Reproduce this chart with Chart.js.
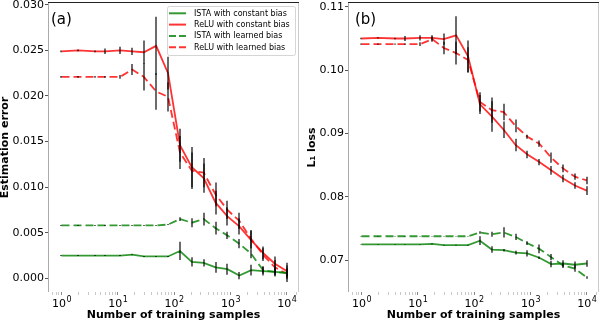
<!DOCTYPE html>
<html>
<head>
<meta charset="utf-8">
<script src="https://cdn.jsdelivr.net/npm/chart.js@4"></script>
<style>
  body { margin: 0; background: #fff; }
  .panel { position: absolute; top: 0; width: 300px; height: 322px; }
</style>
</head>
<body>
<div class="panel" style="left:0"><canvas id="chartA" width="300" height="322"></canvas></div>
<div class="panel" style="left:300px"><canvas id="chartB" width="300" height="322"></canvas></div>
<script>
// number of training samples (x positions shared by every series)
const samples = [1, 2, 4, 6, 11, 18, 29, 48, 78, 127, 206, 335, 545, 885, 1438, 2335, 3792, 6158, 10000];
const seriesLabels = ['ISTA with constant bias', 'ReLU with constant bias', 'ISTA with learned bias', 'ReLU with learned bias'];

// (a) estimation error
const istaConstA = [0.0025, 0.0025, 0.0025, 0.0025, 0.0025, 0.0026, 0.0024, 0.0024, 0.0024, 0.0030, 0.0018, 0.0017, 0.0012, 0.0010, 0.0003, 0.0009, 0.0008, 0.0007, 0.0006];
const reluConstA = [0.0249, 0.0250, 0.0249, 0.0249, 0.0250, 0.0249, 0.0248, 0.0255, 0.0225, 0.0146, 0.0122, 0.0110, 0.0083, 0.0068, 0.0057, 0.0042, 0.0028, 0.0016, 0.0008];
const istaLearnA = [0.0058, 0.0058, 0.0058, 0.0058, 0.0058, 0.0058, 0.0058, 0.0058, 0.0059, 0.0065, 0.0061, 0.0065, 0.0055, 0.0047, 0.0038, 0.0027, 0.0009, 0.0007, 0.0006];
const reluLearnA = [0.0221, 0.0221, 0.0221, 0.0221, 0.0221, 0.0229, 0.0221, 0.0205, 0.0199, 0.0138, 0.0118, 0.0116, 0.0092, 0.0075, 0.0063, 0.0043, 0.0026, 0.0012, 0.0005];
// error bar half-lengths for (a)
const errIstaConstA = [0.00005, 0.00005, 0.00005, 0.00005, 0.00005, 0.00005, 0.00005, 0.00005, 0.00005, 0.0010, 0.0005, 0.0004, 0.0006, 0.0006, 0.0004, 0.0006, 0.0005, 0.0005, 0.0005];
const errReluConstA = [0.0001, 0.0001, 0.0001, 0.0003, 0.0004, 0.0004, 0.0013, 0.0032, 0.0018, 0.0018, 0.0022, 0.0016, 0.0013, 0.0010, 0.0009, 0.0010, 0.0007, 0.0008, 0.0009];
const errIstaLearnA = [0.00005, 0.00005, 0.00005, 0.00005, 0.00005, 0.00005, 0.00005, 0.00005, 0.00005, 0.0002, 0.0005, 0.0007, 0.0007, 0.0004, 0.0005, 0.0005, 0.0004, 0.0004, 0.0004];
const errReluLearnA = [0.0001, 0.0001, 0.0001, 0.0001, 0.0002, 0.0006, 0.0015, 0.0020, 0.0016, 0.0018, 0.0020, 0.0016, 0.0013, 0.0010, 0.0009, 0.0010, 0.0007, 0.0008, 0.0009];

// (b) L1 loss
const istaConstB = [0.0725, 0.0725, 0.0725, 0.0725, 0.0725, 0.0726, 0.0724, 0.0724, 0.0724, 0.0731, 0.0717, 0.0716, 0.0712, 0.0711, 0.0704, 0.0694, 0.0695, 0.0693, 0.0695];
const reluConstB = [0.1050, 0.1051, 0.1050, 0.1050, 0.1051, 0.1051, 0.1049, 0.1055, 0.1022, 0.0946, 0.0927, 0.0906, 0.0882, 0.0867, 0.0855, 0.0842, 0.0829, 0.0818, 0.0810];
const istaLearnB = [0.0738, 0.0738, 0.0738, 0.0738, 0.0738, 0.0738, 0.0738, 0.0738, 0.0738, 0.0744, 0.0741, 0.0744, 0.0737, 0.0727, 0.0718, 0.0705, 0.0692, 0.0687, 0.0673];
const reluLearnB = [0.1041, 0.1041, 0.1041, 0.1041, 0.1041, 0.1049, 0.1035, 0.1027, 0.1016, 0.0950, 0.0937, 0.0934, 0.0912, 0.0895, 0.0884, 0.0862, 0.0845, 0.0832, 0.0826];
const errIstaConstB = [0.00005, 0.00005, 0.00005, 0.00005, 0.00005, 0.00005, 0.00005, 0.00005, 0.00005, 0.0007, 0.0005, 0.0002, 0.0003, 0.0005, 0.0002, 0.0005, 0.0005, 0.0005, 0.0005];
const errReluConstB = [0.0001, 0.0001, 0.0001, 0.0004, 0.0004, 0.0004, 0.0009, 0.0030, 0.0025, 0.0015, 0.0024, 0.0013, 0.0010, 0.0006, 0.0005, 0.0007, 0.0006, 0.0005, 0.0007];
const errIstaLearnB = [0.00005, 0.00005, 0.00005, 0.00005, 0.00005, 0.00005, 0.00005, 0.00005, 0.00005, 0.0002, 0.0004, 0.0008, 0.0005, 0.0003, 0.0007, 0.0005, 0.0004, 0.0005, 0.0002];
const errReluLearnB = [0.0001, 0.0001, 0.0001, 0.0001, 0.0003, 0.0004, 0.0010, 0.0018, 0.0020, 0.0015, 0.0020, 0.0013, 0.0010, 0.0003, 0.0005, 0.0008, 0.0006, 0.0005, 0.0006];

// tick values; major x labels are 10 with these exponents
const xMajorTicks = [1, 10, 100, 1000, 10000];
const xTickExponents = ['0', '1', '2', '3', '4'];
const yTicksA = [0, 0.005, 0.010, 0.015, 0.020, 0.025, 0.030];
const yTicksB = [0.07, 0.08, 0.09, 0.10, 0.11];

Chart.defaults.font.family = '"DejaVu Sans", sans-serif';
Chart.defaults.color = '#000';

const RED = 'rgba(255,0,0,0.8)';
const GREEN = 'rgba(0,128,0,0.8)';

// minor ticks 2..9 x 10^k between the majors
const xAllTicks = [];
xMajorTicks.forEach((m, i) => {
  xAllTicks.push(m);
  if (i < xMajorTicks.length - 1) for (let k = 2; k <= 9; k++) xAllTicks.push(m * k);
});
[0.7, 0.8, 0.9].forEach(v => xAllTicks.unshift(v));
xAllTicks.push(15000);

function majorIndex(v) {
  const e = Math.log10(v);
  return Math.abs(e - Math.round(e)) < 1e-9 ? Math.round(e) : -1;
}

function makeDatasets(vals) {
  const styles = [
    { color: GREEN, dash: [] },
    { color: RED, dash: [] },
    { color: GREEN, dash: [8, 4] },
    { color: RED, dash: [8, 4] }
  ];
  return vals.map((v, i) => ({
    label: seriesLabels[i],
    data: samples.map((s, j) => ({ x: s, y: v[j] })),
    borderColor: styles[i].color,
    borderDash: styles[i].dash,
    borderWidth: 1.8,
    pointRadius: 0,
    tension: 0,
    fill: false
  }));
}

// vertical error bars through the chart scales
const errorBars = {
  id: 'errorBars',
  afterDatasetsDraw(chart, args, opts) {
    const { ctx, scales: { x, y } } = chart;
    ctx.save();
    ctx.strokeStyle = 'rgba(0,0,0,0.58)';
    ctx.lineWidth = 2;
    chart.data.datasets.forEach((ds, i) => {
      const err = opts.errors[i];
      ds.data.forEach((p, j) => {
        const px = Math.round(x.getPixelForValue(p.x));
        ctx.beginPath();
        ctx.moveTo(px, y.getPixelForValue(p.y - err[j]));
        ctx.lineTo(px, y.getPixelForValue(p.y + err[j]));
        ctx.stroke();
      });
    });
    ctx.restore();
  }
};

// axes frame, power-of-ten x labels and the (a)/(b) tag
const frameAndTag = {
  id: 'frameAndTag',
  beforeDatasetsDraw(chart) {
    const { ctx, chartArea: a } = chart;
    ctx.save();
    ctx.lineWidth = 1;
    ctx.strokeStyle = '#aaa';
    ctx.beginPath(); ctx.moveTo(a.left - 0.5, a.top); ctx.lineTo(a.left - 0.5, a.bottom); ctx.stroke();
    ctx.strokeStyle = '#ccc';
    ctx.beginPath(); ctx.moveTo(a.right + 0.5, a.top); ctx.lineTo(a.right + 0.5, a.bottom); ctx.stroke();
    ctx.strokeStyle = '#222';
    ctx.beginPath(); ctx.moveTo(a.left - 1, a.top - 0.5); ctx.lineTo(a.right + 1, a.top - 0.5); ctx.stroke();
    ctx.restore();
  },
  afterDatasetsDraw(chart, args, opts) {
    const { ctx, chartArea: a, scales: { x } } = chart;
    ctx.save();
    ctx.fillStyle = '#000';
    ctx.font = '15px "DejaVu Sans"';
    ctx.textBaseline = 'alphabetic';
    ctx.fillText(opts.text, a.left + opts.dx, a.top + 21);
    // x tick labels: "10" with a raised exponent
    xMajorTicks.forEach((v, i) => {
      const px = x.getPixelForValue(v);
      ctx.font = '11px "DejaVu Sans"';
      const wBase = ctx.measureText('10').width;
      ctx.font = '8px "DejaVu Sans"';
      const wExp = ctx.measureText(xTickExponents[i]).width;
      const left = px - (wBase + wExp) / 2;
      ctx.textAlign = 'left';
      ctx.font = '11px "DejaVu Sans"';
      ctx.fillText('10', left, a.bottom + 15);
      ctx.font = '8px "DejaVu Sans"';
      ctx.fillText(xTickExponents[i], left + wBase + 0.5, a.bottom + 10);
    });
    ctx.restore();
  }
};

// legend drawn inside the upper right corner of the plot
const innerLegend = {
  id: 'innerLegend',
  afterDraw(chart, args, opts) {
    if (!opts.show) return;
    const { ctx, chartArea: a } = chart;
    const x0 = a.right - 131, y0 = a.top + 3, w = 128, h = 49;
    ctx.save();
    ctx.fillStyle = 'rgba(255,255,255,0.85)';
    ctx.strokeStyle = '#d5d5d5';
    ctx.lineWidth = 1;
    ctx.beginPath();
    ctx.roundRect(x0 + 0.5, y0 + 0.5, w, h, 2);
    ctx.fill();
    ctx.stroke();
    ctx.font = '8px "DejaVu Sans"';
    ctx.textBaseline = 'middle';
    chart.data.datasets.forEach((ds, i) => {
      const cy = y0 + 7.3 + i * 11.3;
      ctx.strokeStyle = ds.borderColor;
      ctx.lineWidth = 2;
      ctx.setLineDash(ds.borderDash.length ? [7, 3] : []);
      ctx.beginPath();
      ctx.moveTo(x0 + 2, cy);
      ctx.lineTo(x0 + 19, cy);
      ctx.stroke();
      ctx.setLineDash([]);
      ctx.fillStyle = '#000';
      ctx.fillText(ds.label, x0 + 27, cy + 0.5);
    });
    ctx.restore();
  }
};

function makeChart(id, cfg) {
  return new Chart(document.getElementById(id), {
    type: 'line',
    data: { datasets: makeDatasets(cfg.values) },
    options: {
      responsive: false,
      animation: false,
      devicePixelRatio: 1,
      layout: { padding: { top: 3, right: 2, left: 0, bottom: 0 } },
      plugins: {
        legend: { display: false },
        tooltip: { enabled: false },
        errorBars: { errors: cfg.errors },
        frameAndTag: { text: cfg.tag, dx: cfg.tagDx },
        innerLegend: { show: cfg.legend }
      },
      scales: {
        x: {
          type: 'logarithmic',
          min: 0.631,
          max: 15849,
          afterBuildTicks: s => {
            s.ticks = xAllTicks.filter(v => v >= s.min && v <= s.max)
              .map(v => ({ value: v, major: majorIndex(v) >= 0 }));
          },
          afterFit: s => { s.height = 30; s.paddingLeft = 0; s.paddingRight = 0; },
          border: { display: false },
          grid: {
            drawOnChartArea: false,
            drawTicks: true,
            tickLength: 3,
            tickWidth: c => (c.tick && majorIndex(c.tick.value) >= 0) ? 1 : 0.8,
            tickColor: c => (c.tick && majorIndex(c.tick.value) >= 0) ? '#888' : '#bbb'
          },
          ticks: {
            autoSkip: false,
            maxRotation: 0,
            padding: 2,
            font: { size: 11 },
            callback: () => ''
          },
          title: {
            display: true,
            text: 'Number of training samples',
            font: { size: 11, weight: 'bold', lineHeight: 1.2 },
            padding: { top: 0, bottom: 0 }
          }
        },
        y: {
          type: 'linear',
          min: cfg.yMin,
          max: cfg.yMax,
          afterBuildTicks: s => { s.ticks = cfg.yTicks.map(v => ({ value: v })); },
          afterFit: s => { s.width = 49; s.paddingTop = 0; s.paddingBottom = 0; },
          border: { display: false },
          grid: {
            drawOnChartArea: false,
            drawTicks: true,
            tickLength: 4,
            tickColor: '#555'
          },
          ticks: {
            padding: 1,
            font: { size: 11 },
            callback: v => v.toFixed(cfg.digits)
          },
          title: {
            display: true,
            text: cfg.yTitle,
            font: { size: 11, weight: 'bold', lineHeight: 1 },
            padding: { top: cfg.titlePad, bottom: 0 }
          }
        }
      }
    },
    plugins: [frameAndTag, errorBars, innerLegend]
  });
}

makeChart('chartA', {
  values: [istaConstA, reluConstA, istaLearnA, reluLearnA],
  errors: [errIstaConstA, errReluConstA, errIstaLearnA, errReluLearnA],
  yMin: -0.0015, yMax: 0.0302, yTicks: yTicksA, digits: 3,
  yTitle: 'Estimation error', titlePad: 0,
  tag: '(a)', tagDx: 2, legend: true
});

makeChart('chartB', {
  values: [istaConstB, reluConstB, istaLearnB, reluLearnB],
  errors: [errIstaConstB, errReluConstB, errIstaLearnB, errReluLearnB],
  yMin: 0.0650, yMax: 0.1106, yTicks: yTicksB, digits: 2,
  yTitle: 'L\u2081 loss', titlePad: 6.5,
  tag: '(b)', tagDx: 6, legend: false
});
</script>
</body>
</html>
